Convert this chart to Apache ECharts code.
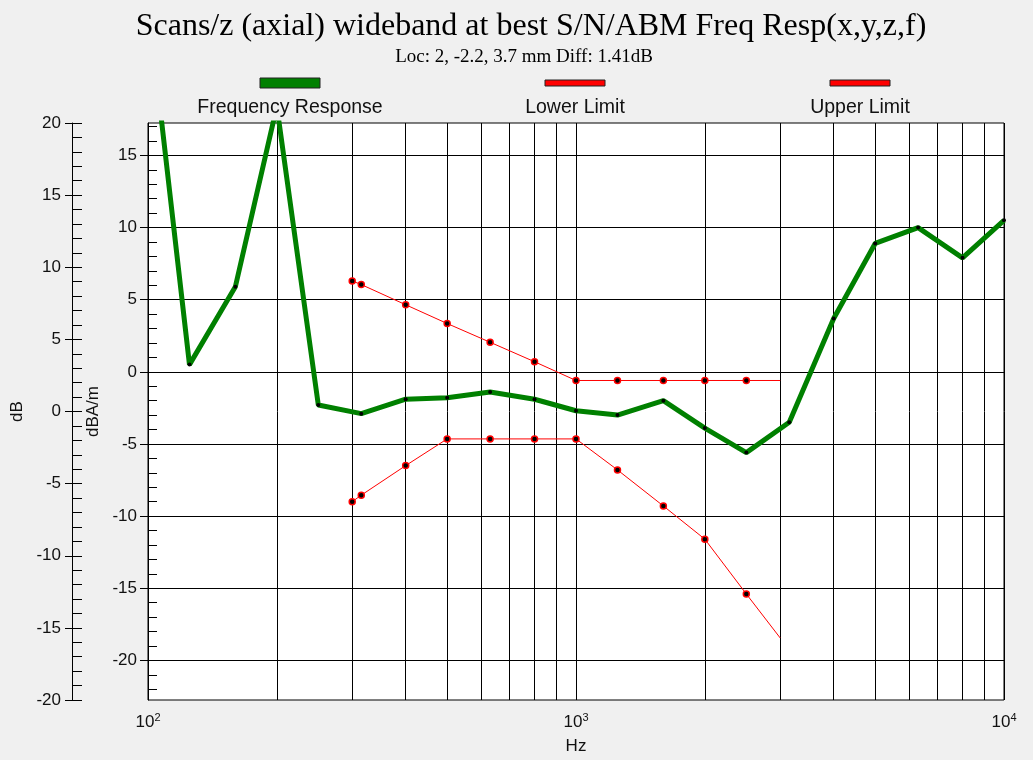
<!DOCTYPE html>
<html>
<head>
<meta charset="utf-8">
<script src="https://cdn.jsdelivr.net/npm/echarts@6/dist/echarts.min.js"></script>
<style>
  html, body { margin: 0; padding: 0; background: #f0f0f0; }
  #chart { width: 1033px; height: 760px; }
</style>
</head>
<body>
<div id="chart"></div>
<script>
// 1/3 octave bands of the measured response
const respHz = [100, 125, 160, 200, 250, 315, 400, 500, 630, 800, 1000, 1250, 1600, 2000, 2500, 3150, 4000, 5000, 6300, 8000, 10000];
const respDb = [25.6, 0.5, 5.9, 18.4, -2.3, -2.9, -1.9, -1.8, -1.4, -1.9, -2.7, -3.0, -2.0, -3.9, -5.6, -3.5, 3.7, 8.9, 10.0, 7.9, 10.5];

// tolerance mask
const limitHz = [300, 315, 400, 500, 630, 800, 1000, 1250, 1600, 2000, 2500, 3000];
const lowerDb = [-9.0, -8.55, -6.5, -4.65, -4.65, -4.65, -4.65, -6.8, -9.3, -11.6, -15.4, -18.45];
const upperDb = [6.3, 6.05, 4.65, 3.35, 2.05, 0.7, -0.6, -0.6, -0.6, -0.6, -0.6, -0.6];

// log grid lines between the decades
const minorHz = [200, 300, 400, 500, 600, 700, 800, 900, 2000, 3000, 4000, 5000, 6000, 7000, 8000, 9000];
const dbTicks = [-20, -15, -10, -5, 0, 5, 10, 15];

const legendNames = ['Frequency Response', 'Lower Limit', 'Upper Limit'];

const FONT = 'Liberation Sans';
const TXT = '#111';

const chart = echarts.init(document.getElementById('chart'));

function pairs(xs, ys, lastNoDot) {
  return xs.map((x, i) => {
    if (lastNoDot && i === xs.length - 1) return { value: [x, ys[i]], symbol: 'none' };
    return [x, ys[i]];
  });
}

// legend drawn as swatch + caption under it
const legendGraphic = [];
const legendX = [290, 575, 860];
legendNames.forEach((name, i) => {
  const green = i === 0;
  legendGraphic.push({
    type: 'rect',
    shape: { x: legendX[i] - 30, y: green ? 78 : 80, width: 60, height: green ? 10 : 6 },
    style: { fill: green ? '#008000' : '#ff0000', stroke: '#222', lineWidth: 1 }
  });
  legendGraphic.push({
    type: 'text',
    x: legendX[i], y: 108,
    style: { text: name, font: '19.5px "' + FONT + '"', fill: TXT, align: 'center', verticalAlign: 'middle' }
  });
});

const option = {
  backgroundColor: '#f0f0f0',
  animation: false,
  title: [{
    text: 'Scans/z (axial) wideband at best S/N/ABM Freq Resp(x,y,z,f)',
    left: 531,
    textAlign: 'center',
    top: 11,
    padding: 0,
    textStyle: { fontFamily: 'Liberation Serif', fontSize: 32, fontWeight: 'normal', color: '#000' }
  }, {
    text: 'Loc: 2, -2.2, 3.7 mm Diff: 1.41dB',
    left: 524,
    textAlign: 'center',
    top: 48,
    padding: 0,
    textStyle: { fontFamily: 'Liberation Serif', fontSize: 19, fontWeight: 'normal', color: '#000' }
  }],
  graphic: legendGraphic,
  grid: {
    left: 148, right: 29, top: 123, bottom: 60,
    show: true, backgroundColor: '#fff', borderColor: '#000', borderWidth: 1
  },
  xAxis: {
    type: 'log',
    logBase: 10,
    min: 100,
    max: 10000,
    name: 'Hz',
    nameLocation: 'middle',
    nameGap: 38,
    nameTextStyle: { fontFamily: FONT, fontSize: 17, color: TXT },
    axisLine: { show: true, lineStyle: { color: '#000', width: 1 } },
    axisTick: { show: true, length: 12, lineStyle: { color: '#000' } },
    axisLabel: {
      margin: 12,
      formatter: v => '{b|10}{sup|' + Math.round(Math.log10(v)) + '}',
      rich: {
        b: { fontFamily: FONT, fontSize: 17, color: TXT, lineHeight: 20 },
        sup: { fontFamily: FONT, fontSize: 11, color: TXT, lineHeight: 12, verticalAlign: 'top' }
      }
    },
    splitLine: { show: true, lineStyle: { color: '#000', width: 1 } }
  },
  yAxis: [{
    // inner axis (dBA/m), carries the data, major ticks + labels outside
    type: 'value',
    min: -22.75,
    max: 17.25,
    splitNumber: 8,
    position: 'left',
    name: 'dBA/m',
    nameLocation: 'middle',
    nameRotate: 90,
    nameGap: 46,
    nameTextStyle: { fontFamily: FONT, fontSize: 17, color: TXT },
    axisLine: { show: true, lineStyle: { color: '#000', width: 1 } },
    axisTick: { show: true, length: 8, customValues: dbTicks, lineStyle: { color: '#000' } },
    axisLabel: { margin: 11, customValues: dbTicks, fontFamily: FONT, fontSize: 17, color: TXT },
    splitLine: { show: true, lineStyle: { color: '#000', width: 1 } }
  }, {
    // same scale, only the minor ticks pointing into the plot
    type: 'value',
    min: -22.75,
    max: 17.25,
    splitNumber: 8,
    position: 'left',
    axisLine: { show: false },
    axisTick: { show: false, inside: true },
    minorTick: { show: true, splitNumber: 5, length: 9, lineStyle: { color: '#000' } },
    axisLabel: { show: false },
    splitLine: { show: false }
  }, {
    // outer axis (dB)
    type: 'value',
    min: -20,
    max: 20,
    interval: 5,
    position: 'left',
    offset: 76,
    name: 'dB',
    nameLocation: 'middle',
    nameRotate: 90,
    nameGap: 42,
    nameTextStyle: { fontFamily: FONT, fontSize: 17, color: TXT },
    axisLine: { show: true, lineStyle: { color: '#000', width: 1 } },
    axisTick: { show: true, length: 7, lineStyle: { color: '#000' } },
    axisLabel: { margin: 11, fontFamily: FONT, fontSize: 17, color: TXT },
    splitLine: { show: false }
  }, {
    type: 'value',
    min: -20,
    max: 20,
    interval: 5,
    position: 'left',
    offset: 76,
    axisLine: { show: false },
    axisTick: { show: true, inside: true, length: 10, lineStyle: { color: '#000' } },
    minorTick: { show: true, splitNumber: 5, length: 10, lineStyle: { color: '#000' } },
    axisLabel: { show: false },
    splitLine: { show: false }
  }],
  series: [{
    name: 'grid',
    type: 'line',
    data: [],
    silent: true,
    z: 1,
    markLine: {
      silent: true,
      z: 1,
      symbol: ['none', 'none'],
      label: { show: false },
      lineStyle: { color: '#000', width: 1, type: 'solid' },
      data: minorHz.map(v => ({ xAxis: v }))
    }
  }, {
    name: legendNames[0],
    type: 'line',
    z: 4,
    data: pairs(respHz, respDb),
    symbol: 'circle',
    symbolSize: 4,
    showAllSymbol: true,
    lineStyle: { color: '#008000', width: 5 },
    itemStyle: { color: '#000' }
  }, {
    name: legendNames[1],
    type: 'line',
    z: 3,
    data: pairs(limitHz, lowerDb, true),
    symbol: 'circle',
    symbolSize: 6,
    showAllSymbol: true,
    lineStyle: { color: '#ff0000', width: 1 },
    itemStyle: { color: '#000', borderColor: '#ff0000', borderWidth: 1.5 }
  }, {
    name: legendNames[2],
    type: 'line',
    z: 3,
    data: pairs(limitHz, upperDb, true),
    symbol: 'circle',
    symbolSize: 6,
    showAllSymbol: true,
    lineStyle: { color: '#ff0000', width: 1 },
    itemStyle: { color: '#000', borderColor: '#ff0000', borderWidth: 1.5 }
  }]
};

chart.setOption(option);
</script>
</body>
</html>
